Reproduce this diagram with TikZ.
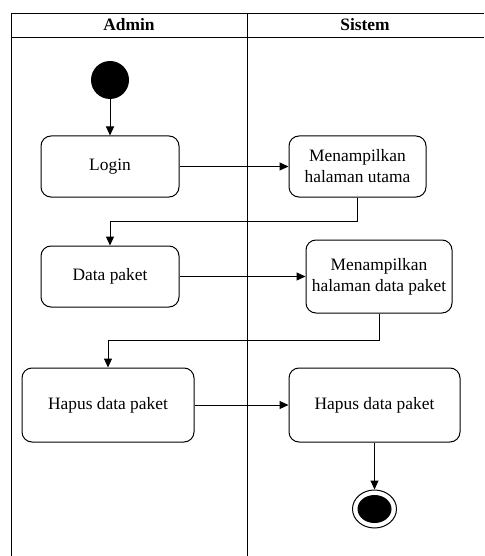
\documentclass[tikz,border=0pt]{standalone}
\usepackage{fontspec}
\setmainfont{Liberation Serif}
\usetikzlibrary{arrows.meta,shapes.geometric}
\begin{document}
\begin{tikzpicture}[x=1pt,y=-1pt,
  act/.style={draw, rounded corners=10pt, line width=1pt, align=center, inner sep=2pt,
    font=\fontsize{17.4}{21}\selectfont},
  conn/.style={draw, line width=1pt, -{Triangle[length=9pt,width=8pt]}},
  lane/.style={line width=0.9pt},
  hdr/.style={font=\fontsize{17.4}{21}\selectfont\bfseries, inner sep=0pt}]
\useasboundingbox (0,0) rectangle (484,556);
% swimlanes
\draw[lane] (11,556) -- (11,13) -- (484,13);
\draw[lane] (11,37) -- (484,37);
\draw[lane] (247,13) -- (247,556);
\node[hdr] (hadmin) at (129,25) {Admin};
\node[hdr] (hsistem) at (365,25) {Sistem};
% nodes
\node[circle, fill=black, minimum size=38pt, inner sep=0pt] (start) at (110,80) {};
\node[act, minimum width=138pt, minimum height=61pt] (login) at (110,166.5) {Login};
\node[act, minimum width=137pt, minimum height=61pt] (mhu) at (357.5,166.5) {Menampilkan\\halaman utama};
\node[act, minimum width=138pt, minimum height=61pt] (dp) at (110,276.5) {Data paket};
\node[act, minimum width=146pt, minimum height=73pt] (mhdp) at (379,276.5) {Menampilkan\\halaman data paket};
\node[act, minimum width=172pt, minimum height=74pt] (hl) at (108,405) {Hapus data paket};
\node[act, minimum width=171pt, minimum height=74pt] (hr) at (374.5,405) {Hapus data paket};
\node[ellipse, draw, line width=1pt, minimum width=44pt, minimum height=38pt, inner sep=0pt] (end) at (374.5,509) {};
\node[ellipse, fill=black, minimum width=34pt, minimum height=28pt, inner sep=0pt] (endin) at (end.center) {};
% connectors
\draw[conn] (start) -- (login);
\draw[conn] (login) -- (mhu);
\draw[conn] (mhu.south) -- ++(0,24) -| (dp.north);
\draw[conn] (dp) -- (mhdp);
\draw[conn] (mhdp.south) -- ++(0,27) -| (hl.north);
\draw[conn] (hl) -- (hr);
\draw[conn] (hr) -- (end);
\end{tikzpicture}
\end{document}
